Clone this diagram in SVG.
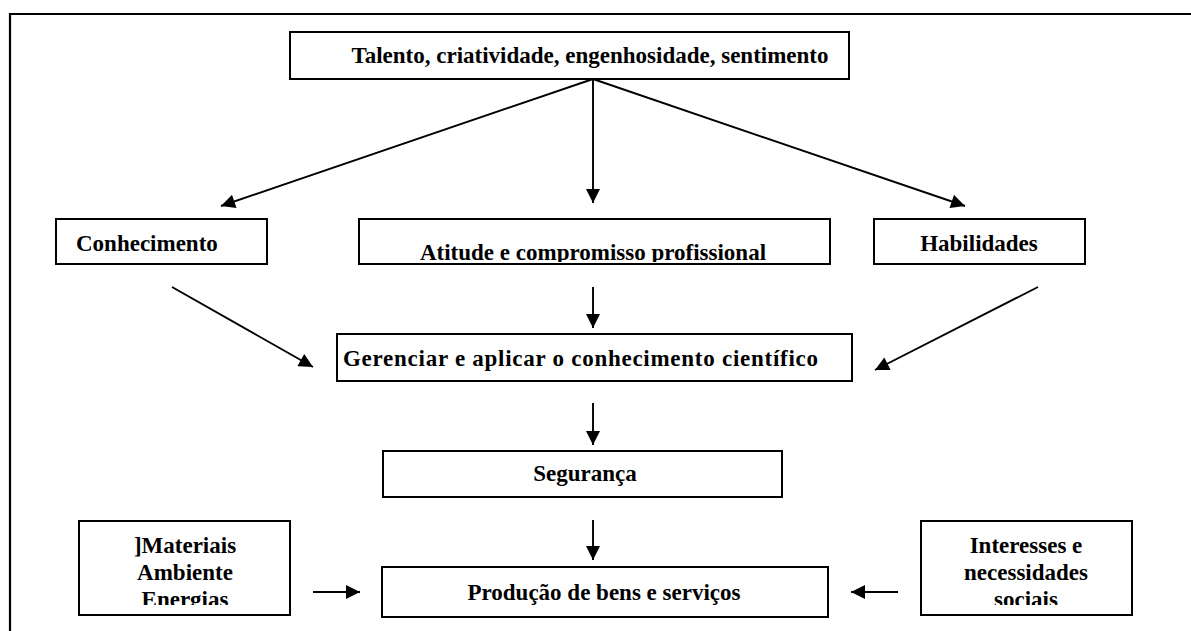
<svg xmlns="http://www.w3.org/2000/svg" width="1191" height="631" viewBox="0 0 1191 631">
<style>
.box{fill:#fff;stroke:#000;stroke-width:2}
.t{font-family:'Liberation Serif','Times New Roman','DejaVu Serif',serif;font-weight:700;font-size:23px;fill:#000}
.c{text-anchor:middle}
.ln{stroke:#000;stroke-width:1.9;fill:none;marker-end:url(#ah)}
</style>
<defs>
<marker id="ah" viewBox="0 0 10 10" refX="10" refY="5" markerWidth="15" markerHeight="14" markerUnits="userSpaceOnUse" orient="auto">
<path d="M0,0 L10,5 L0,10 z" fill="#000"/>
</marker>
<clipPath id="clipAt"><rect x="359" y="219" width="471" height="43"/></clipPath>
<clipPath id="clipMat"><rect x="79" y="521" width="211" height="84"/></clipPath>
<clipPath id="clipInt"><rect x="921" y="521" width="211" height="84"/></clipPath>
</defs>
<rect width="1191" height="631" fill="#fff"/>
<g id="frame"><path d="M10,640 L10,14 L1200,14" fill="none" stroke="#000" stroke-width="2.2"/></g>
<g id="n-talento"><rect class="box" x="290" y="32" width="559" height="47"/><text class="t c" x="590" y="63">Talento, criatividade, engenhosidade, sentimento</text></g>
<g id="n-conhecimento"><rect class="box" x="56" y="219" width="211" height="45"/><text class="t" x="76" y="251">Conhecimento</text></g>
<g id="n-atitude"><rect class="box" x="359" y="219" width="471" height="45"/><text class="t c" x="593" y="260" clip-path="url(#clipAt)">Atitude e compromisso profissional</text></g>
<g id="n-habilidades"><rect class="box" x="874" y="219" width="211" height="45"/><text class="t c" x="979" y="251">Habilidades</text></g>
<g id="n-gerenciar"><rect class="box" x="337" y="334" width="515" height="47"/><text class="t" x="343" y="366" textLength="475" lengthAdjust="spacing">Gerenciar e aplicar o conhecimento científico</text></g>
<g id="n-seguranca"><rect class="box" x="383" y="451" width="399" height="46"/><text class="t c" x="585" y="481">Segurança</text></g>
<g id="n-producao"><rect class="box" x="382" y="567" width="446" height="50"/><text class="t c" x="604" y="600">Produção de bens e serviços</text></g>
<g id="n-materiais"><rect class="box" x="79" y="521" width="211" height="94"/><g clip-path="url(#clipMat)"><text class="t c" x="185" y="553">]Materiais</text><text class="t c" x="185" y="580">Ambiente</text><text class="t c" x="185" y="607">Energias</text></g></g>
<g id="n-interesses"><rect class="box" x="921" y="521" width="211" height="94"/><g clip-path="url(#clipInt)"><text class="t c" x="1026" y="553">Interesses e</text><text class="t c" x="1026" y="580">necessidades</text><text class="t c" x="1026" y="607">sociais</text></g></g>
<g id="connectors">
<line class="ln" x1="593" y1="79" x2="221" y2="206"/>
<line class="ln" x1="593" y1="79" x2="593" y2="203"/>
<line class="ln" x1="593" y1="79" x2="965" y2="206"/>
<line class="ln" x1="172" y1="287" x2="313" y2="367"/>
<line class="ln" x1="593" y1="287" x2="593" y2="328"/>
<line class="ln" x1="1038" y1="287" x2="875" y2="370"/>
<line class="ln" x1="593" y1="403" x2="593" y2="445"/>
<line class="ln" x1="593" y1="520" x2="593" y2="560"/>
<line class="ln" x1="313" y1="592" x2="360" y2="592"/>
<line class="ln" x1="898" y1="592" x2="851" y2="592"/>
</g>
</svg>
